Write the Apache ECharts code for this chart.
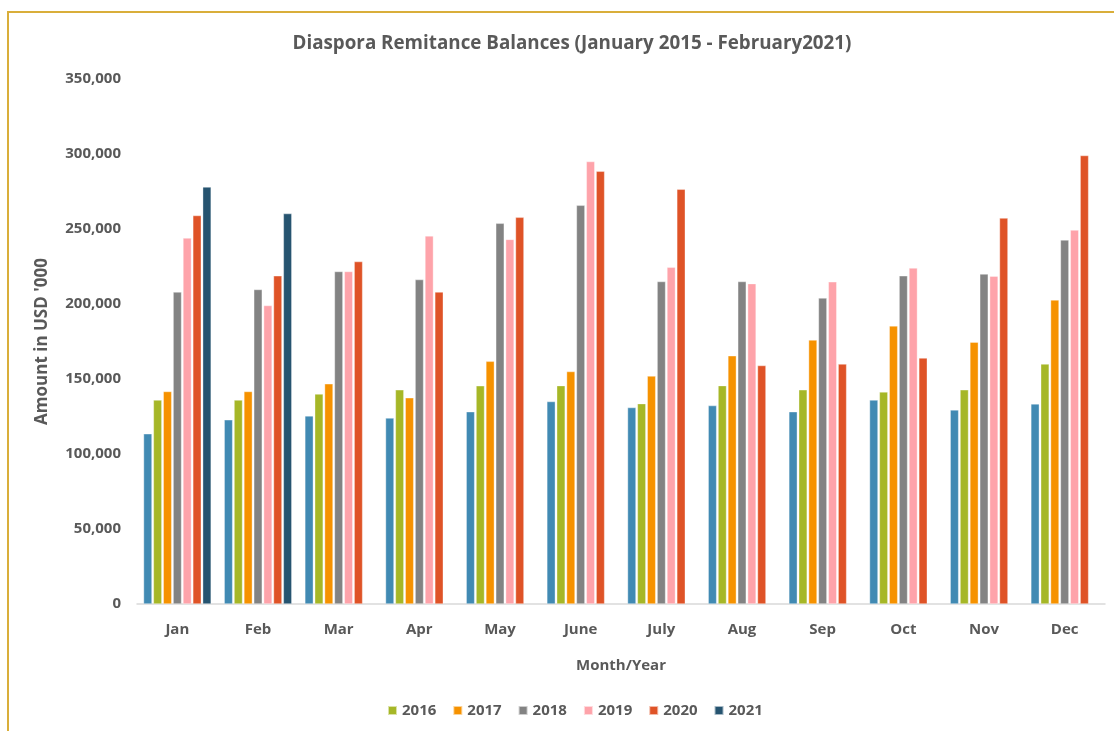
<!DOCTYPE html>
<html>
<head>
<meta charset="utf-8">
<script src="https://cdn.jsdelivr.net/npm/echarts@6/dist/echarts.min.js"></script>
<style>
  html, body { margin: 0; padding: 0; background: #fff; }
  #chart { width: 1114px; height: 731px; }
</style>
</head>
<body>
<div id="chart"></div>
<script>
// 月份
const months = ['Jan', 'Feb', 'Mar', 'Apr', 'May', 'June', 'July', 'Aug', 'Sep', 'Oct', 'Nov', 'Dec'];

// 各年份数据（单位：千美元）
const y2015 = [113.5, 122.8, 125.4, 124.0, 128.2, 135.0, 131.0, 132.3, 128.2, 136.0, 129.4, 133.4];
const y2016 = [136.0, 136.0, 140.0, 142.8, 145.5, 145.6, 133.6, 145.6, 142.8, 141.4, 142.8, 160.0];
const y2017 = [141.7, 141.7, 146.8, 137.5, 161.8, 155.0, 152.0, 165.5, 176.0, 185.4, 174.6, 202.7];
const y2018 = [208.0, 209.7, 221.7, 216.3, 253.8, 265.8, 215.0, 215.0, 204.0, 218.8, 220.0, 242.7];
const y2019 = [244.0, 199.0, 221.7, 245.4, 243.1, 295.0, 224.5, 213.6, 214.8, 224.0, 218.6, 249.3];
const y2020 = [259.0, 218.8, 228.3, 208.0, 257.8, 288.5, 276.5, 159.0, 160.0, 164.0, 257.3, 299.0];
const y2021 = [278.0, 260.3, null, null, null, null, null, null, null, null, null, null];

const seriesNames = ['2015', '2016', '2017', '2018', '2019', '2020', '2021'];
const seriesValues = [y2015, y2016, y2017, y2018, y2019, y2020, y2021];
const colors = ['#418AB3', '#A6B727', '#F69200', '#838383', '#FEA3AA', '#DF5327', '#265470'];

const yTicks = [0, 50000, 100000, 150000, 200000, 250000, 300000, 350000];

const textColor = '#595959';
const fontFam = '"Open Sans", "Noto Sans", sans-serif';

var myChart = echarts.init(document.getElementById('chart'));

const series = seriesNames.map((name, i) => ({
    name: name,
    type: 'bar',
    barWidth: 8.5,
    barGap: '16%',
    itemStyle: { color: colors[i], borderColor: 'rgba(255,255,255,0.6)', borderWidth: 0.6 },
    data: seriesValues[i].map(v => (v === null ? null : Math.round(v * 1000)))
}));

var option = {
    backgroundColor: '#fff',
    animation: false,
    color: colors,
    textStyle: { fontFamily: fontFam },
    graphic: [{
        type: 'rect',
        shape: { x: 8, y: 12, width: 1200, height: 800 },
        style: { fill: 'none', stroke: '#D9AE3A', lineWidth: 2 },
        silent: true
    }],
    title: {
        text: 'Diaspora Remitance Balances (January 2015 - February2021)',
        left: 567,
        top: 29,
        textAlign: 'center',
        textStyle: { fontSize: 18.8, fontWeight: 'bold', color: textColor, fontFamily: fontFam }
    },
    legend: {
        data: ['2016', '2017', '2018', '2019', '2020', '2021'],
        bottom: 8,
        left: 382,
        itemWidth: 9,
        itemHeight: 9,
        itemGap: 16,
        icon: 'rect',
        textStyle: { fontSize: 15, fontWeight: 'bold', color: textColor, fontFamily: fontFam }
    },
    grid: { left: 137, top: 79, width: 968, height: 525, containLabel: false },
    xAxis: {
        type: 'category',
        data: months,
        name: 'Month/Year',
        nameLocation: 'middle',
        nameGap: 54,
        nameTextStyle: { fontSize: 15, fontWeight: 'bold', color: textColor },
        axisLine: { lineStyle: { color: '#D9D9D9', width: 1.5 } },
        axisTick: { show: false },
        axisLabel: { margin: 18, fontSize: 15, fontWeight: 'bold', color: textColor }
    },
    yAxis: {
        type: 'value',
        min: 0,
        max: 350000,
        interval: 50000,
        name: "Amount in USD '000",
        nameLocation: 'middle',
        nameGap: 86,
        nameTextStyle: { fontSize: 17, fontWeight: 'bold', color: textColor },
        axisLine: { show: false },
        axisTick: { show: false },
        splitLine: { show: false },
        axisLabel: {
            margin: 16,
            fontSize: 15,
            fontWeight: 'bold',
            color: textColor,
            customValues: yTicks,
            formatter: v => v.toLocaleString('en-US')
        }
    },
    series: series
};

myChart.setOption(option);
</script>
</body>
</html>
